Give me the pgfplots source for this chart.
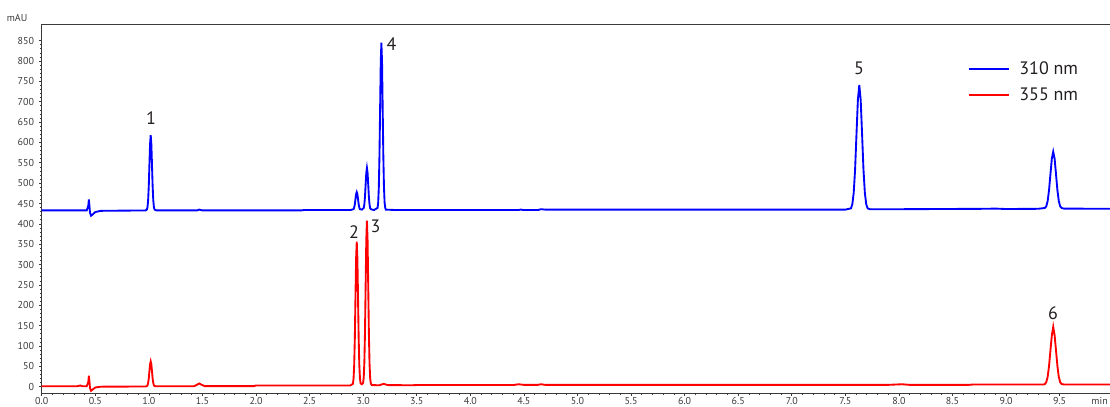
\documentclass[border=0pt]{standalone}
\usepackage{fontspec}
\setmainfont{PT Sans}
\usepackage{pgfplots}
\pgfplotsset{compat=1.18}
\definecolor{txt}{HTML}{231F20}
\definecolor{tk}{HTML}{3A3A3A}
\begin{document}
\begin{tikzpicture}
\begin{axis}[
  scale only axis, width=801.2pt, height=276.75pt,
  xmin=0, xmax=9.97, ymin=-15.5, ymax=891,
  axis x line*=box, axis y line*=left,
  xtick pos=left, ytick pos=left,
  xtick={0,0.5,...,9.5}, ytick={0,50,...,850},
  minor x tick num=4, minor y tick num=4,
  tick align=outside,
  major tick length=2.2pt, minor tick length=1.3pt,
  tick style={tk, line width=0.5pt},
  axis line style={tk, line width=0.6pt},
  ticklabel style={font=\fontsize{7.5}{8}\selectfont, text=tk},
  x tick label style={inner sep=0pt, yshift=-0.6pt, /pgf/number format/.cd, fixed, fixed zerofill, precision=1},
  /pgf/number format/assume math mode=true,
  legend style={at={(0.867,0.905)}, anchor=north west, draw=none, fill=none,
    inner sep=0pt, font=\fontsize{13.5}{15}\selectfont, text=txt, row sep=4.5pt,
    /tikz/every odd column/.append style={column sep=5pt}},
  legend cell align=left,
  legend image code/.code={\draw[#1, line width=1.4pt] (0pt,0pt) -- (30pt,0pt);},
]
\coordinate (O) at (rel axis cs:0,0);
\coordinate (T) at (rel axis cs:1,1);
\addplot[blue, line width=1.4pt] coordinates {
(0,433) (0.35,433) (0.42,433) (0.435,445) (0.44,460) (0.445,445) (0.45,428) (0.46,420) (0.47,422) (0.5,429) (0.55,432) (0.97,433)
(0.981,435) (0.987,441) (0.993,458) (0.999,493) (1.005,545) (1.011,596) (1.017,618) (1.023,596) (1.029,545) (1.035,493) (1.041,458) (1.047,441) (1.053,435) (1.07,433)
(1.45,433) (1.47,435) (1.5,433) (2.42,433) (2.45,434) (2.88,434)
(2.91,436) (2.916,440) (2.922,448) (2.928,461) (2.934,473) (2.94,478) (2.946,473) (2.952,461) (2.958,448) (2.964,440) (2.97,436)
(2.988,435)
(3.005,439) (3.011,448) (3.017,467) (3.023,497) (3.029,525) (3.035,537) (3.041,525) (3.047,497) (3.053,467) (3.059,448) (3.065,439) (3.071,436)
(3.10,434)
(3.134,439) (3.14,452) (3.146,490) (3.152,568) (3.158,683) (3.164,797) (3.17,845) (3.176,797) (3.182,683) (3.188,568) (3.194,490) (3.2,452) (3.206,439) (3.212,435)
(3.3,434) (4.45,434) (4.47,435) (4.5,434) (4.63,434) (4.66,436) (4.7,435) (5.2,435) (7.5,435)
(7.552,438) (7.565,448) (7.578,476) (7.591,534) (7.604,621) (7.617,705) (7.63,741) (7.643,705) (7.656,621) (7.669,534) (7.682,476) (7.695,448) (7.708,438) (7.73,436)
(8.0,436) (8.8,437) (8.9,437.5) (9.0,436.5) (9.3,437)
(9.362,439) (9.375,443) (9.388,456) (9.401,483) (9.414,522) (9.427,560) (9.44,577) (9.453,560) (9.466,522) (9.479,483) (9.492,456) (9.505,443) (9.518,439) (9.54,437.5) (9.97,437)
};
\addlegendentry{310 nm}
\addplot[red, line width=1.4pt] coordinates {
(0,1) (0.33,1) (0.36,3) (0.38,1) (0.42,1) (0.435,12) (0.44,27) (0.445,14) (0.45,-3) (0.46,-10) (0.47,-8) (0.5,-2) (0.55,0) (0.97,0.5)
(0.981,1.5) (0.987,3.5) (0.993,9) (0.999,20) (1.005,38) (1.011,55) (1.017,62) (1.023,55) (1.029,38) (1.035,20) (1.041,9) (1.047,3.5) (1.053,1.5) (1.07,1)
(1.42,1) (1.45,5) (1.47,8) (1.49,5) (1.52,1.5) (1.98,1.5) (2.0,3) (2.88,3)
(2.904,7) (2.91,19) (2.916,52) (2.922,118) (2.928,218) (2.934,315) (2.94,356) (2.946,315) (2.952,218) (2.958,118) (2.964,52) (2.97,20) (2.976,8) (2.988,6)
(2.999,9) (3.005,22) (3.011,59) (3.017,136) (3.023,250) (3.029,360) (3.035,408) (3.041,360) (3.047,250) (3.053,136) (3.059,59) (3.065,22) (3.071,8) (3.08,4)
(3.15,3.5) (3.19,7) (3.23,4) (3.45,3.5) (3.5,4) (4.4,4) (4.45,6) (4.5,4.5) (4.63,4.5) (4.66,6) (4.7,4.5) (5.5,4.5) (7.9,4.5) (8.03,6) (8.1,4.5) (8.65,4.5) (8.7,5.5) (9.35,5.5)
(9.362,6.5) (9.375,11) (9.388,24) (9.401,51) (9.414,89) (9.427,126) (9.44,147) (9.453,126) (9.466,89) (9.479,51) (9.492,24) (9.505,11) (9.518,6.5) (9.54,5.5) (9.97,5.5)
};
\addlegendentry{355 nm}
\begin{scope}[every node/.style={font=\fontsize{13.5}{14}\selectfont, text=txt, inner sep=0pt}]
\node at (axis cs:1.02,660) {1};
\node at (axis cs:2.915,381) {2};
\node at (axis cs:3.115,393) {3};
\node at (axis cs:3.265,842) {4};
\node at (axis cs:7.627,782) {5};
\node at (axis cs:9.437,180) {6};
\end{scope}
\end{axis}
\node[font=\fontsize{7.5}{8}\selectfont, text=tk, inner sep=0pt] at ([xshift=-18.5pt,yshift=4.5pt]O|-T) {mAU};
\node[font=\fontsize{7.5}{8}\selectfont, text=tk, inner sep=0pt, anchor=north east] at ([xshift=-1.5pt,yshift=-2.8pt]T|-O) {min};
\pgfresetboundingbox
\useasboundingbox ([xshift=-31.3pt,yshift=-9.75pt]O) rectangle ([yshift=18pt]T);
\end{tikzpicture}
\end{document}
